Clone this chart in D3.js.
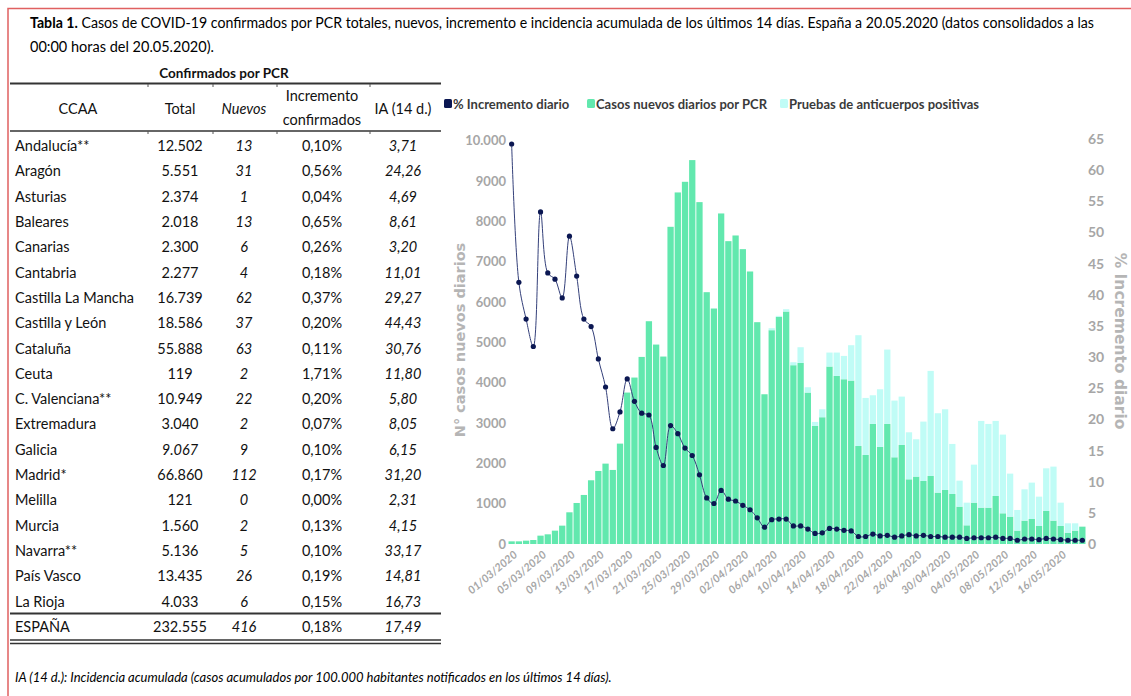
<!DOCTYPE html>
<html lang="es">

<head>
    <meta charset="UTF-8" />
    <title>Tabla 1 - COVID-19 España</title>
    <script src="https://d3js.org/d3.v7.js"></script>
    <style>
        body { margin: 0; background: #fff; }
        svg { display: block; }
    </style>
</head>

<body>
    <script>
        var w = 1131;
        var h = 696;

        // ---- table data ----
        var ccaa = ["Andalucía**", "Aragón", "Asturias", "Baleares", "Canarias", "Cantabria",
            "Castilla La Mancha", "Castilla y León", "Cataluña", "Ceuta", "C. Valenciana**",
            "Extremadura", "Galicia", "Madrid*", "Melilla", "Murcia", "Navarra**", "País Vasco",
            "La Rioja", "ESPAÑA"];
        var total = ["12.502", "5.551", "2.374", "2.018", "2.300", "2.277", "16.739", "18.586",
            "55.888", "119", "10.949", "3.040", "9.067", "66.860", "121", "1.560", "5.136",
            "13.435", "4.033", "232.555"];
        var nuevos = ["13", "31", "1", "13", "6", "4", "62", "37", "63", "2", "22", "2", "9",
            "112", "0", "2", "5", "26", "6", "416"];
        var incremento = ["0,10%", "0,56%", "0,04%", "0,65%", "0,26%", "0,18%", "0,37%", "0,20%",
            "0,11%", "1,71%", "0,20%", "0,07%", "0,10%", "0,17%", "0,00%", "0,13%", "0,10%",
            "0,19%", "0,15%", "0,18%"];
        var ia14 = ["3,71", "24,26", "4,69", "8,61", "3,20", "11,01", "29,27", "44,43", "30,76",
            "11,80", "5,80", "8,05", "6,15", "31,20", "2,31", "4,15", "33,17", "14,81", "16,73",
            "17,49"];

        // ---- chart data (01/03/2020 - 19/05/2020) ----
        var fechas = d3.timeDay.range(new Date(2020, 2, 1), new Date(2020, 4, 20));
        var pcrNuevos = [66, 66, 83, 99, 207, 240, 331, 455, 786, 1017,
            1216, 1580, 1811, 1993, 1836, 2489, 3755, 4127, 4639, 5524,
            4945, 4648, 7865, 8717, 8981, 9519, 8477, 6244, 5839, 8196,
            7509, 7650, 7311, 6757, 5500, 3713, 5301, 5632, 5764, 4433,
            4491, 3755, 2928, 3143, 4400, 4168, 4085, 4052, 2431, 2208,
            2977, 2407, 2977, 2150, 2456, 1604, 1671, 1563, 1687, 1274,
            1340, 1240, 926, 463, 1025, 901, 901, 1191, 761, 678,
            331, 579, 620, 447, 819, 579, 447, 281, 331, 430];
        var anticuerpos = [0, 0, 0, 0, 0, 0, 0, 0, 0, 0,
            0, 0, 0, 0, 0, 0, 0, 0, 0, 0,
            0, 0, 0, 0, 0, 0, 0, 0, 0, 0,
            0, 0, 0, 0, 0, 0, 50, 25, 58, 74,
            388, 132, 99, 198, 347, 579, 579, 877, 2746, 1414,
            711, 1430, 1844, 1406, 1199, 1166, 926, 1472, 2605, 1968,
            2001, 1241, 645, 562, 943, 2151, 2076, 1861, 1952, 1067,
            513, 777, 902, 727, 1058, 1340, 578, 232, 182, 0];
        var incrementoDiario = [64.2, 42.0, 36.1, 31.7, 53.3, 43.5, 42.5, 39.5, 49.4, 43.0,
            36.1, 34.9, 29.7, 25.2, 18.5, 21.2, 26.5, 22.9, 21.0, 20.7,
            15.5, 12.6, 19.0, 17.7, 15.4, 14.2, 11.1, 7.4, 6.5, 8.6,
            7.2, 6.9, 6.2, 5.5, 4.2, 2.7, 3.9, 4.0, 4.0, 2.9,
            2.9, 2.4, 1.7, 1.8, 2.5, 2.4, 2.2, 2.1, 1.2, 1.2,
            1.6, 1.3, 1.4, 1.1, 1.3, 1.5, 1.3, 1.4, 1.2, 1.2,
            1.1, 1.1, 1.1, 0.9, 1.0, 1.0, 1.0, 1.1, 0.9, 0.9,
            0.6, 0.8, 0.8, 0.7, 0.9, 0.8, 0.7, 0.6, 0.6, 0.6];
        var leftTicks = [0, 1000, 2000, 3000, 4000, 5000, 6000, 7000, 8000, 9000, 10000];
        var rightTicks = [0, 5, 10, 15, 20, 25, 30, 35, 40, 45, 50, 55, 60, 65];
        var series = ["% Incremento diario", "Casos nuevos diarios por PCR", "Pruebas de anticuerpos positivas"];
        var colors = ["#0b1752", "#62e8ae", "#c0fcf6"];

        var txtFont = "Lato, 'Open Sans', sans-serif";

        var svg = d3.select("body")
            .append("svg")
            .attr("width", w)
            .attr("height", h);

        // red frame
        svg.append("path")
            .attr("d", "M8,696 V8.5 H1131")
            .attr("fill", "none")
            .attr("stroke", "#e06060")
            .attr("stroke-width", 1.5);

        // title
        var t1 = svg.append("text")
            .attr("x", 30).attr("y", 28)
            .attr("font-family", txtFont).attr("font-size", 14.5)
            .attr("textLength", 1064).attr("lengthAdjust", "spacingAndGlyphs");
        t1.append("tspan").attr("font-weight", "bold").text("Tabla 1.");
        t1.append("tspan").text(" Casos de COVID-19 confirmados por PCR totales, nuevos, incremento e incidencia acumulada de los últimos 14 días. España a 20.05.2020 (datos consolidados a las");
        svg.append("text")
            .attr("x", 30).attr("y", 52)
            .attr("font-family", txtFont).attr("font-size", 14.5)
            .text("00:00 horas del 20.05.2020).");

        // ---------------- table ----------------
        var table = svg.append("g").attr("font-family", txtFont).attr("font-size", 14.5).attr("fill", "#111");
        var colX = [15, 180, 244, 322, 403];
        var rowY = d3.scaleLinear().domain([0, 19]).range([146, 627]);

        table.append("text").attr("x", 224).attr("y", 78).attr("text-anchor", "middle")
            .attr("font-weight", "bold").attr("font-size", 13.5).text("Confirmados por PCR");

        // horizontal rules
        var rules = [[83.5, 2.2], [131, 1.6], [613.5, 2], [640, 1.5], [643.5, 1.5]];
        table.selectAll("line.rule")
            .data(rules)
            .enter()
            .append("line")
            .attr("class", "rule")
            .attr("x1", 10).attr("x2", 441)
            .attr("y1", function (d) { return d[0]; })
            .attr("y2", function (d) { return d[0]; })
            .attr("stroke", "#333")
            .attr("stroke-width", function (d) { return d[1]; });

        // little column marks on the header rules
        [148, 213, 277, 370].forEach(function (x) {
            [84, 131].forEach(function (y) {
                table.append("line").attr("x1", x).attr("x2", x).attr("y1", y).attr("y2", y + 3)
                    .attr("stroke", "#555").attr("stroke-width", 1);
            });
        });

        // header
        table.append("text").attr("x", 78).attr("y", 114).attr("text-anchor", "middle").text("CCAA");
        table.append("text").attr("x", colX[1]).attr("y", 114).attr("text-anchor", "middle").text("Total");
        table.append("text").attr("x", colX[2]).attr("y", 114).attr("text-anchor", "middle")
            .attr("font-style", "italic").text("Nuevos");
        table.append("text").attr("x", colX[3]).attr("y", 101).attr("text-anchor", "middle").text("Incremento");
        table.append("text").attr("x", colX[3]).attr("y", 125).attr("text-anchor", "middle").text("confirmados");
        table.append("text").attr("x", colX[4]).attr("y", 114).attr("text-anchor", "middle").text("IA (14 d.)");

        // rows
        var rows = table.selectAll("g.row")
            .data(ccaa)
            .enter()
            .append("g")
            .attr("class", "row")
            .attr("transform", function (d, i) { return "translate(0," + (rowY(i) + 5) + ")"; });

        rows.append("text").attr("x", colX[0]).text(function (d) { return d; });
        rows.append("text").attr("x", colX[1]).attr("text-anchor", "middle")
            .attr("font-style", function (d, i) { return ccaa[i] == "Galicia" ? "italic" : "normal"; })
            .text(function (d, i) { return total[i]; });
        rows.append("text").attr("x", colX[2]).attr("text-anchor", "middle").attr("font-style", "italic")
            .text(function (d, i) { return nuevos[i]; });
        rows.append("text").attr("x", colX[3]).attr("text-anchor", "middle")
            .text(function (d, i) { return incremento[i]; });
        rows.append("text").attr("x", colX[4]).attr("text-anchor", "middle").attr("font-style", "italic")
            .text(function (d, i) { return ia14[i]; });

        // footnote
        svg.append("text")
            .attr("x", 15).attr("y", 682)
            .attr("font-family", txtFont).attr("font-size", 13).attr("font-style", "italic")
            .text("IA (14 d.): Incidencia acumulada (casos acumulados por 100.000 habitantes notificados en los últimos 14 días).");

        // ---------------- chart ----------------
        var xScale = d3.scaleBand()
            .domain(fechas)
            .range([508.5, 1085.5])
            .paddingInner(0.13)
            .paddingOuter(0);

        var yLeft = d3.scaleLinear().domain([0, 10000]).range([544, 140.7]);
        var yRight = d3.scaleLinear().domain([0, 65]).range([544, 139]);

        var stackData = fechas.map(function (f, i) {
            return { fecha: f, pcr: pcrNuevos[i], ac: anticuerpos[i] };
        });
        var stacked = d3.stack().keys(["pcr", "ac"])(stackData);

        svg.append("g")
            .selectAll("g")
            .data(stacked)
            .enter()
            .append("g")
            .attr("fill", function (d, i) { return colors[i + 1]; })
            .selectAll("rect")
            .data(function (d) { return d; })
            .enter()
            .append("rect")
            .attr("x", function (d) { return xScale(d.data.fecha); })
            .attr("width", xScale.bandwidth())
            .attr("y", function (d) { return yLeft(d[1]); })
            .attr("height", function (d) { return yLeft(d[0]) - yLeft(d[1]); });

        // % increment line
        var line = d3.line()
            .x(function (d, i) { return xScale(fechas[i]) + xScale.bandwidth() / 2; })
            .y(function (d) { return yRight(d); })
            .curve(d3.curveCatmullRom);

        svg.append("path")
            .datum(incrementoDiario)
            .attr("d", line)
            .attr("fill", "none")
            .attr("stroke", "#34407a")
            .attr("stroke-width", 1);

        svg.append("g")
            .selectAll("circle")
            .data(incrementoDiario)
            .enter()
            .append("circle")
            .attr("cx", function (d, i) { return xScale(fechas[i]) + xScale.bandwidth() / 2; })
            .attr("cy", function (d) { return yRight(d); })
            .attr("r", 2.6)
            .attr("fill", colors[0]);

        // axes
        var axisColor = "#a6a6a6";

        var leftAxis = svg.append("g")
            .attr("transform", "translate(507,0)")
            .call(d3.axisLeft(yLeft)
                .tickValues(leftTicks)
                .tickSize(0)
                .tickPadding(1)
                .tickFormat(function (d) { return d == 10000 ? "10.000" : d; }));
        leftAxis.select(".domain").remove();
        leftAxis.selectAll("text")
            .attr("font-family", txtFont).attr("font-size", 13).attr("font-weight", "bold").attr("fill", axisColor);

        var rightAxis = svg.append("g")
            .attr("transform", "translate(1087,0)")
            .call(d3.axisRight(yRight)
                .tickValues(rightTicks)
                .tickSize(0)
                .tickPadding(1));
        rightAxis.select(".domain").remove();
        rightAxis.selectAll("text")
            .attr("font-family", txtFont).attr("font-size", 14).attr("font-weight", "bold").attr("fill", axisColor);

        var fmt = d3.timeFormat("%d/%m/%Y");
        var xAxis = svg.append("g")
            .attr("transform", "translate(0,544)")
            .call(d3.axisBottom(xScale)
                .tickValues(fechas.filter(function (d, i) { return i % 4 == 0; }))
                .tickSize(0)
                .tickFormat(fmt));
        xAxis.select(".domain").remove();
        xAxis.selectAll("text")
            .attr("x", 0).attr("y", 0).attr("dy", "0.35em")
            .attr("text-anchor", "end")
            .attr("transform", "translate(4,9) rotate(-40)")
            .attr("font-family", txtFont).attr("font-size", 11).attr("font-weight", "bold")
            .attr("font-style", "italic").attr("fill", axisColor);

        // axis titles
        svg.append("text")
            .attr("transform", "translate(465,340) rotate(-90)")
            .attr("text-anchor", "middle")
            .attr("font-family", "'DejaVu Sans', sans-serif").attr("font-size", 14.5).attr("font-weight", "bold")
            .attr("fill", "#b5b5b5")
            .text("N° casos nuevos diarios");

        svg.append("text")
            .attr("transform", "translate(1115,341) rotate(90)")
            .attr("text-anchor", "middle")
            .attr("font-family", "'DejaVu Sans', sans-serif").attr("font-size", 15.5).attr("font-weight", "bold")
            .attr("fill", "#b5b5b5")
            .text("% Incremento diario");

        // legend
        var legendX = [444, 587, 780];
        var legend = svg.append("g")
            .selectAll("g")
            .data(series)
            .enter()
            .append("g")
            .attr("transform", function (d, i) { return "translate(" + legendX[i] + ",99)"; });
        legend.append("rect")
            .attr("width", 8).attr("height", 9).attr("rx", 1.5)
            .attr("fill", function (d, i) { return colors[i]; });
        legend.append("text")
            .attr("x", 9).attr("y", 9.5)
            .attr("font-family", txtFont).attr("font-size", 13).attr("font-weight", "bold")
            .attr("fill", "#3a3a3a")
            .text(function (d) { return d; });
    </script>
</body>

</html>
